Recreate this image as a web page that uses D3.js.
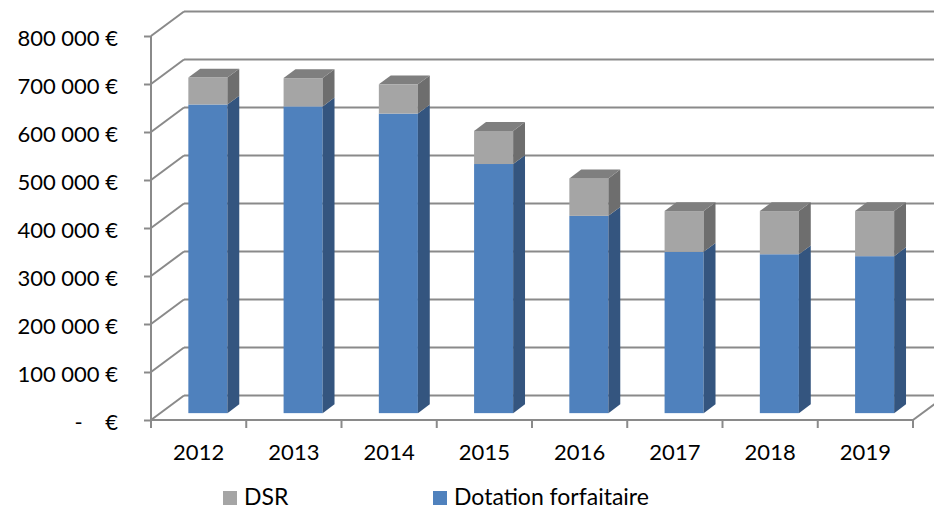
<!DOCTYPE html>
<html>
<head>
<meta charset="utf-8">
<script src="https://cdn.jsdelivr.net/npm/d3@7"></script>
<style>
  html, body { margin: 0; padding: 0; background: #fff; }
  svg { display: block; font-family: Lato, "Open Sans", sans-serif; }
</style>
</head>
<body>
<svg id="chart" width="934" height="510"></svg>
<script>
// ---- data ----
const categories = ["2012", "2013", "2014", "2015", "2016", "2017", "2018", "2019"];
const dotationForfaitaire = [643000, 639000, 624000, 519000, 411000, 336000, 331000, 327000];
const dsr = [56000, 59000, 61000, 69000, 78000, 85000, 90000, 94000];
const yTickValues = [0, 100000, 200000, 300000, 400000, 500000, 600000, 700000, 800000];
const seriesNames = ["DSR", "Dotation forfaitaire"];

(function () {
// ---- layout ----
const plotLeft = 151, plotRight = 913, plotBottom = 420, plotTop = 36;
const DX = 33, DY = 24.5;          // full depth offset
const z0 = 0.28, zd = 0.36;        // bar front position / bar depth (fraction of depth)
const gridColor = "#8a8a8a";
const colors = {
  blue: { front: "#4f81bd", side: "#34557f", top: "#3f6ca3" },
  gray: { front: "#a5a5a5", side: "#6e6e6e", top: "#7f7f7f" }
};

const svg = d3.select("#chart");

const y = d3.scaleLinear().domain([0, 800000]).range([plotBottom, plotTop]);
const xCat = d3.scaleBand().domain(categories).range([plotLeft, plotRight]).padding(0);
const xBar = d3.scaleBand().domain(categories).range([plotLeft, plotRight]).paddingInner(0.59).paddingOuter(0.295);

// ---- walls & floor ----
const g = svg.append("g");
const line = (x1, y1, x2, y2) => g.append("line")
  .attr("x1", x1).attr("y1", y1).attr("x2", x2).attr("y2", y2)
  .attr("stroke", gridColor).attr("stroke-width", 2);

yTickValues.forEach(v => {
  const yy = y(v);
  line(plotLeft, yy, plotLeft + DX, yy - DY);
  line(plotLeft + DX, yy - DY, plotRight + DX, yy - DY);
});
line(plotLeft, plotBottom, plotRight, plotBottom);
line(plotRight, plotBottom, plotRight + DX, plotBottom - DY);
line(plotLeft, plotTop, plotLeft, plotBottom);

// ---- bars ----
const ddx = zd * DX, ddy = zd * DY;
const bars = svg.append("g");
categories.forEach((c, i) => {
  const xf = xBar(c) + z0 * DX;
  const w = xBar.bandwidth();
  const segs = [
    { a: 0, b: dotationForfaitaire[i], col: colors.blue, isTop: false },
    { a: dotationForfaitaire[i], b: dotationForfaitaire[i] + dsr[i], col: colors.gray, isTop: true }
  ];
  segs.forEach(s => {
    const yt = y(s.b) - z0 * DY, yb = y(s.a) - z0 * DY;
    bars.append("rect").attr("x", xf).attr("y", yt).attr("width", w).attr("height", yb - yt)
      .attr("fill", s.col.front);
    bars.append("polygon")
      .attr("points", [[xf + w, yt], [xf + w + ddx, yt - ddy], [xf + w + ddx, yb - ddy], [xf + w, yb]].join(" "))
      .attr("fill", s.col.side);
    if (s.isTop) {
      bars.append("polygon")
        .attr("points", [[xf, yt], [xf + ddx, yt - ddy], [xf + w + ddx, yt - ddy], [xf + w, yt]].join(" "))
        .attr("fill", s.col.top);
    }
  });
});

// ---- y axis ----
const fmt = v => v === 0 ? "-\u00a0\u00a0\u00a0\u00a0€" : d3.format(",")(v).replace(/,/g, " ") + " €";
const yAxis = d3.axisLeft(y).tickValues(yTickValues).tickFormat(fmt).tickSize(7).tickSizeOuter(0).tickPadding(26);
const ya = svg.append("g").attr("transform", `translate(${plotLeft},0)`).call(yAxis);
ya.select(".domain").remove();
ya.selectAll(".tick line").attr("stroke", gridColor).attr("stroke-width", 2);
ya.selectAll(".tick text").attr("font-size", 22).attr("fill", "#000").attr("font-family", "Lato").attr("dy", "0.45em");

// ---- x axis ----
const xAxis = d3.axisBottom(xCat).tickSize(0).tickPadding(24);
const xa = svg.append("g").attr("transform", `translate(0,${plotBottom})`).call(xAxis);
xa.select(".domain").remove();
xa.selectAll(".tick text").attr("font-size", 22).attr("fill", "#000").attr("font-family", "Lato");
const bounds = categories.map(c => xCat(c)).concat([plotRight]);
xa.selectAll(".xtick").data(bounds).enter().append("line").attr("class", "xtick")
  .attr("x1", d => d).attr("x2", d => d).attr("y1", 0).attr("y2", 8)
  .attr("stroke", gridColor).attr("stroke-width", 2);

// ---- legend ----
const legend = svg.append("g");
const legendItems = [
  { name: seriesNames[0], color: colors.gray.front, x: 223 },
  { name: seriesNames[1], color: colors.blue.front, x: 433 }
];
legendItems.forEach(it => {
  legend.append("rect").attr("x", it.x).attr("y", 491).attr("width", 14).attr("height", 14).attr("fill", it.color);
  legend.append("text").attr("x", it.x + 21).attr("y", 505).attr("font-size", 23).attr("fill", "#000")
    .attr("font-family", "Lato").text(it.name);
});
})();
</script>
</body>
</html>
